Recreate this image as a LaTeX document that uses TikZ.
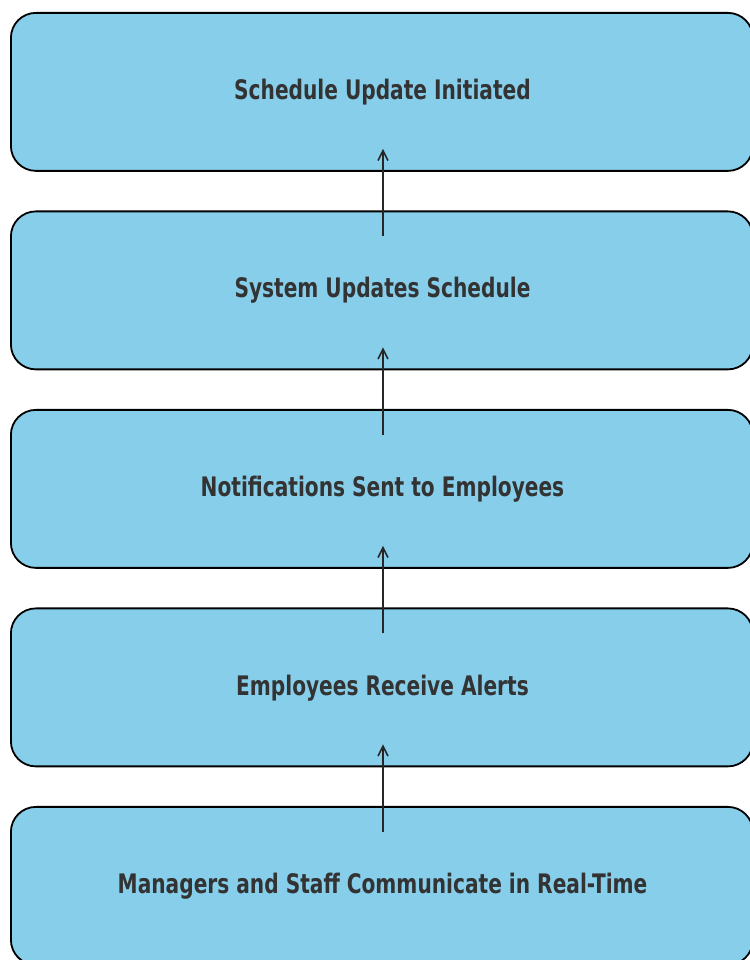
\documentclass[tikz,border=0pt]{standalone}
\usepackage{fontspec}
\newfontfamily\condfont{DejaVu Sans Condensed}[BoldFont=DejaVu Sans Condensed Bold]
\usetikzlibrary{arrows.meta}
\definecolor{boxfill}{HTML}{87CEEB}
\definecolor{txtcol}{HTML}{333333}
\newcommand{\stagetext}[1]{\scalebox{1}[1.2]{#1}}
\tikzset{
  stagebox/.style={draw=black, line width=1.8pt, fill=boxfill, rounded corners=25pt,
    minimum width=742pt, minimum height=158pt, inner sep=0pt, anchor=north west},
  stagelabel/.style={text=txtcol, anchor=base, inner sep=0pt, font=\condfont\bfseries\fontsize{22.4}{26}\selectfont},
  flowarrow/.style={draw=black!85, line width=1.7pt, -{Straight Barb[length=10pt,width=10pt,line width=1.6pt]}}
}
\begin{document}
\begin{tikzpicture}[x=1pt,y=1pt]
\useasboundingbox (0,0) rectangle (749,960);
\node[stagebox] (b1) at (10,948) {};
\node[stagebox] (b2) at (10,749.5) {};
\node[stagebox] (b3) at (10,551) {};
\node[stagebox] (b4) at (10,352.5) {};
\node[stagebox] (b5) at (10,154) {};
\node[stagelabel] (t1) at (382.5,860.5) {\stagetext{Schedule Update Initiated}};
\node[stagelabel] (t2) at (382.5,662) {\stagetext{System Updates Schedule}};
\node[stagelabel] (t3) at (382.5,463.5) {\stagetext{Notifications Sent to Employees}};
\node[stagelabel] (t4) at (382.5,264.5) {\stagetext{Employees Receive Alerts}};
\node[stagelabel] (t5) at (382.5,66) {\stagetext{Managers and Staff Communicate in Real-Time}};
\foreach \lo/\up in {b2/b1,b3/b2,b4/b3,b5/b4}{
  \coordinate (s-\lo) at ([yshift=-26pt]\lo.north -| 383,0);
  \coordinate (e-\up) at ([yshift=23pt]\up.south -| 383,0);
  \draw[flowarrow] (s-\lo) -- (e-\up);
}
\end{tikzpicture}
\end{document}
